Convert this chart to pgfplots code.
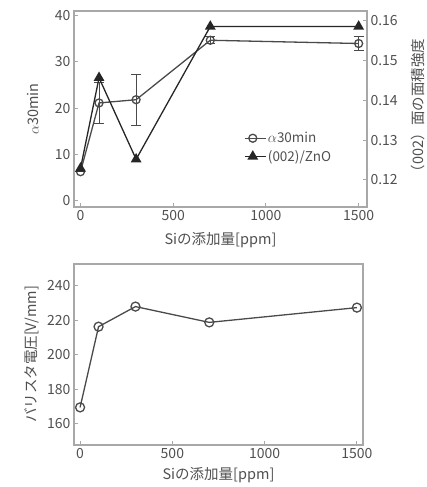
\documentclass[border=0pt]{standalone}
\usepackage{pgfplots}
\pgfplotsset{compat=1.18}
\usepackage{fontspec}
\setmainfont{Noto Sans CJK JP}
\definecolor{txt}{HTML}{505050}
\definecolor{frm}{HTML}{A8A8A8}
\definecolor{ln}{HTML}{4A4A4A}
\definecolor{tri}{HTML}{262626}
\begin{document}
\begin{tikzpicture}
\path[use as bounding box] (0pt,0pt) rectangle (426pt,487pt);
\pgfplotsset{
  every axis/.append style={
    scale only axis,
    font=\fontsize{14}{16}\selectfont,
    axis line style={frm, line width=1.3pt},
    tick style={frm, line width=1pt},
    major tick length=4pt,
    tick align=inside,
    /pgf/number format/assume math mode=true,
    tick label style={txt},
    label style={txt, font=\fontsize{14.5}{16}\selectfont},
  },
  legend image code/.code={\draw[mark repeat=2,mark phase=2,#1] plot coordinates {(0pt,0pt) (8pt,0pt) (21pt,0pt)};}
}
% ---------- top: left axis ----------
\begin{axis}[at={(74pt,280pt)}, anchor=south west, width=293pt, height=196pt,
  xmin=-35, xmax=1545, ymin=-1.3, ymax=40.9,
  xtick={0,500,1000,1500}, ytick={0,10,20,30,40},
  xtick pos=lower, ytick pos=left,
  xticklabel style={/pgf/number format/1000 sep={}},
  xlabel={Siの添加量[ppm]}, ylabel={$\alpha$30min},
  xlabel style={at={(axis description cs:0.5,-0.168)}, anchor=center},
  ylabel style={at={(axis description cs:-0.14,0.5)}, anchor=center},
]
\addplot+[ln, line width=1.3pt, mark=o, mark size=4pt, mark options={ln, fill=white, line width=1.3pt, solid},
  error bars/.cd, y dir=both, y explicit,
  error bar style={ln, line width=1pt},
  error mark options={ln, rotate=90, mark size=5pt, line width=1pt}]
  coordinates {(0,6.3) +- (0,0) (100,21.1) +- (0,4.5) (300,21.8) +- (0,5.5) (700,34.6) +- (0,0.8) (1500,33.9) +- (0,1.5)};
\end{axis}
% ---------- top: right axis ----------
\begin{axis}[at={(74pt,280pt)}, anchor=south west, width=293pt, height=196pt,
  xmin=-35, xmax=1545, ymin=0.1132, ymax=0.1625,
  axis x line=none, axis y line*=right,
  ytick={0.12,0.13,0.14,0.15,0.16},
  yticklabel style={/pgf/number format/.cd, fixed, fixed zerofill, precision=2},
  ylabel={（002）面の面積強度},
  ylabel style={at={(axis description cs:1.174,0.5)}, anchor=center},
  legend style={at={(0.58,0.39)}, anchor=north west, draw=none, fill=none,
    font=\fontsize{13.5}{15}\selectfont, text=txt, row sep=3pt,
    inner sep=0pt, nodes={inner sep=1.5pt}},
  legend cell align=left,
]
\addlegendimage{ln, line width=1.3pt, mark=o, mark size=4pt, mark options={ln, fill=white, line width=1.3pt}}
\addlegendentry{$\alpha$30min}
\addplot[tri, line width=1.3pt, mark=triangle*, mark size=5pt, mark options={tri, fill=tri}]
  coordinates {(0,0.1229) (100,0.1457) (300,0.1252) (700,0.1586) (1500,0.1586)};
\addlegendentry{(002)/ZnO}
\end{axis}
% ---------- bottom ----------
\begin{axis}[at={(74pt,42pt)}, anchor=south west, width=289pt, height=181pt,
  xmin=-33, xmax=1533, ymin=147.4, ymax=252.8,
  xtick={0,500,1000,1500}, ytick={160,180,200,220,240},
  xtick pos=lower, ytick pos=left,
  xticklabel style={/pgf/number format/1000 sep={}},
  xlabel={Siの添加量[ppm]}, ylabel={バリスタ電圧[V/mm]},
  xlabel style={at={(axis description cs:0.5,-0.166)}, anchor=center},
  ylabel style={at={(axis description cs:-0.145,0.5)}, anchor=center},
]
\addplot[ln, line width=1.3pt, mark=o, mark size=4.5pt, mark options={ln, fill=white, line width=1.3pt}]
  coordinates {(0,169.3) (100,216.3) (300,228.0) (700,218.8) (1500,227.4)};
\end{axis}
\end{tikzpicture}
\end{document}
